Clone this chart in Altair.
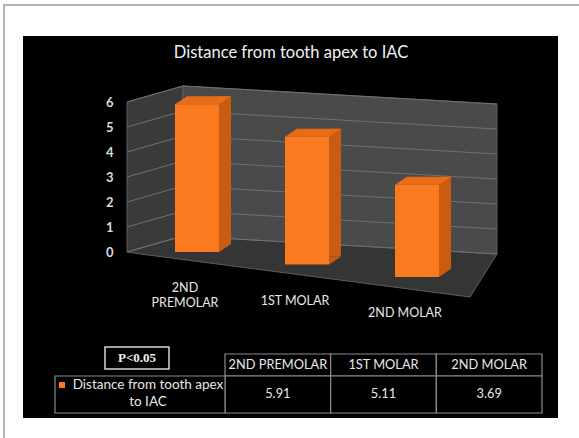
import altair as alt
import pandas as pd

# ---- data -------------------------------------------------------------
categories = ["2ND PREMOLAR", "1ST MOLAR", "2ND MOLAR"]
bar_labels = ["2ND\nPREMOLAR", "1ST MOLAR", "2ND MOLAR"]
distances = [5.91, 5.11, 3.69]
tick_values = [0, 1, 2, 3, 4, 5, 6]
chart_title = "Distance from tooth apex to IAC"
series_label = "Distance from tooth apex\nto IAC"
p_note = "P<0.05"

bars = pd.DataFrame({"cat": categories, "label": bar_labels, "value": distances})
ticks = pd.DataFrame({"v": tick_values})
one = pd.DataFrame({"k": [0]})

# ---- styling / 3-D look -------------------------------------------------
FONT = "Lato"
FRONT = "#fb7a1f"
SIDE = "#c95c10"
TOP = "#e86c17"
WALL_BACK = "#4a4a4a"
WALL_LEFT = "#3a3a3a"
FLOOR = "#353535"
WALL_EDGE = "#5e5e5e"
GRID = "#707070"
TABLE_LINE = "#8c8c8c"
TEXT = "#e8e8e8"

W, H = 370, 150          # plot area (the front plane of the 3-D box)
BAR_W = 44               # front face width
DX, DY = 12, -8          # depth of each bar (side / top faces)
FLOOR_DROP = 0.5         # perspective drop of the floor per category step

yscale = alt.Scale(domain=[0, 6], nice=False, zero=False)
yaxis = alt.Axis(values=tick_values, title=None, grid=False, domain=False,
                 ticks=False, labelPadding=14, labelFont=FONT, zindex=2,
                 labelFontSize=13, labelFontWeight="bold", labelColor="#dcdcdc")
xbar = alt.X("cat:N", sort=categories,
             scale=alt.Scale(type="point", range=[70, 290], padding=0), axis=None)
xtab = alt.X("cat:N", sort=categories,
             scale=alt.Scale(type="band", range=[98, 415], paddingInner=0, paddingOuter=0),
             axis=None)


def yq(field):
    return alt.Y(field, type="quantitative", scale=yscale, axis=yaxis)


def shape(path, fill, stroke=None):
    """Filled custom polygon; size=4 makes path units equal to pixels."""
    kw = dict(shape=path, size=4, filled=True, opacity=1, fill=fill)
    if stroke:
        kw.update(stroke=stroke, strokeWidth=1)
    return alt.Chart(one).mark_point(**kw).encode(x=alt.value(0), y=alt.value(0))


# page frame and black chart panel
frame = alt.Chart(one).mark_rect(fill="white", stroke="#b3b3b3", strokeWidth=2).encode(
    x=alt.value(-123), x2=alt.value(480), y=alt.value(-97), y2=alt.value(360))
panel = alt.Chart(one).mark_rect(fill="black").encode(
    x=alt.value(-104), x2=alt.value(431), y=alt.value(-66), y2=alt.value(316))

title = alt.Chart(one).mark_text(
    text=chart_title, font=FONT, fontSize=16.5, color="#f2f2f2",
    align="center", baseline="alphabetic").encode(x=alt.value(164), y=alt.value(-44))

# walls of the 3-D box
left_wall = shape("M0,0 L56,-16 L56,134 L0,150 Z", WALL_LEFT, WALL_EDGE)
back_wall = shape("M56,-16 L370,2 L370,152 L56,134 Z", WALL_BACK, WALL_EDGE)
floor = shape("M0,150 L56,134 L370,152 L343,195 L6,151 Z", FLOOR, WALL_EDGE)

grid_left = alt.Chart(ticks).mark_rule(color=GRID, strokeWidth=1, y2Offset=-16).encode(
    x=alt.value(0), x2=alt.value(56), y=yq("v"), y2="v:Q")
grid_back = alt.Chart(ticks).mark_rule(color=GRID, strokeWidth=1, yOffset=-16, y2Offset=2).encode(
    x=alt.value(56), x2=alt.value(370), y=yq("v"), y2="v:Q")

# bars: front face from the value, floor pushed back per category
base = alt.Chart(bars).transform_window(idx="row_number()").transform_calculate(
    base=f"-(datum.idx - 1) * {FLOOR_DROP}",
    top=f"datum.value - (datum.idx - 1) * {FLOOR_DROP}",
)

side = base.mark_bar(size=DX, xOffset=BAR_W / 2 + DX / 2, yOffset=DY, y2Offset=DY,
                     color=SIDE).encode(x=xbar, y=yq("top"), y2="base:Q")
side_foot = base.mark_point(shape=f"M0,0 L0,{DY} L{DX},{DY} Z", size=4, filled=True,
                            opacity=1, color=SIDE, xOffset=BAR_W / 2).encode(
    x=xbar, y=yq("base"))
top_face = base.mark_point(
    shape=f"M{-BAR_W/2},0 L{BAR_W/2},0 L{BAR_W/2+DX},{DY} L{-BAR_W/2+DX},{DY} Z",
    size=4, filled=True, opacity=1, color=TOP).encode(x=xbar, y=yq("top"))
front = base.mark_bar(size=BAR_W, color=FRONT).encode(x=xbar, y=yq("top"), y2="base:Q")

cat_text = base.mark_text(font=FONT, fontSize=12.5, color=TEXT, align="center",
                          baseline="top", lineBreak="\n", lineHeight=15,
                          dx=-12, dy=30).encode(x=xbar, y=yq("base"), text="label:N")

# data table under the plot
p_box = alt.Chart(one).mark_rect(fill="black", stroke="#d6d6d6", strokeWidth=1.5).encode(
    x=alt.value(-22), x2=alt.value(42), y=alt.value(245), y2=alt.value(267))
p_text = alt.Chart(one).mark_text(text=p_note, font="Liberation Serif", fontSize=13,
                                  fontWeight="bold", color="#f0f0f0").encode(
    x=alt.value(10), y=alt.value(256))

head_cells = alt.Chart(bars).mark_rect(fill="black", stroke=TABLE_LINE, strokeWidth=1.2).encode(
    x=xtab, y=alt.value(252), y2=alt.value(274))
body_cells = alt.Chart(bars).mark_rect(fill="black", stroke=TABLE_LINE, strokeWidth=1.2).encode(
    x=xtab, y=alt.value(274), y2=alt.value(311))
legend_cell = alt.Chart(one).mark_rect(fill="black", stroke=TABLE_LINE, strokeWidth=1.2).encode(
    x=alt.value(-72), x2=alt.value(98), y=alt.value(274), y2=alt.value(311))
swatch = alt.Chart(one).mark_rect(fill=FRONT).encode(
    x=alt.value(-68), x2=alt.value(-62), y=alt.value(280), y2=alt.value(286))
legend_text = alt.Chart(one).mark_text(text=series_label, font=FONT, fontSize=13.5,
                                       color=TEXT, align="center", baseline="middle",
                                       lineBreak="\n", lineHeight=17).encode(
    x=alt.value(21), y=alt.value(283))
head_text = alt.Chart(bars).mark_text(font=FONT, fontSize=12.8, color=TEXT).encode(
    x=xtab, y=alt.value(263), text="cat:N")
value_text = alt.Chart(bars).mark_text(font=FONT, fontSize=12.8, color=TEXT).encode(
    x=xtab, y=alt.value(292), text=alt.Text("value:Q", format=".2f"))

chart = alt.layer(
    frame, panel, title,
    left_wall, back_wall, floor, grid_left, grid_back,
    side, side_foot, top_face, front, cat_text,
    p_box, p_text, head_cells, body_cells, legend_cell, swatch, legend_text,
    head_text, value_text,
).resolve_scale(x="independent").properties(
    width=W, height=H,
    padding={"left": 127, "top": 102, "right": 82, "bottom": 186},
    autosize=alt.AutoSizeParams(type="none"),
    background="white",
).configure_view(strokeWidth=0)

chart.save("out.html", embed_options={"renderer": "svg", "actions": False})
